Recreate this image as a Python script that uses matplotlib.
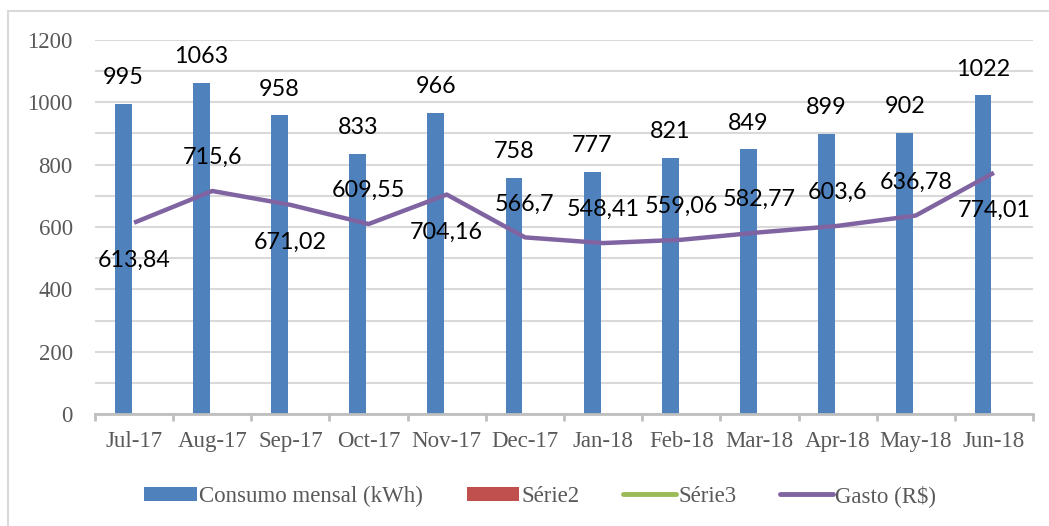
import matplotlib
matplotlib.use("Agg")
import matplotlib.pyplot as plt
from matplotlib.patches import Patch, Rectangle
from matplotlib.lines import Line2D
import numpy as np

months = ["Jul-17", "Aug-17", "Sep-17", "Oct-17", "Nov-17", "Dec-17",
          "Jan-18", "Feb-18", "Mar-18", "Apr-18", "May-18", "Jun-18"]
consumo = [995, 1063, 958, 833, 966, 758, 777, 821, 849, 899, 902, 1022]
gasto = [613.84, 715.6, 671.02, 609.55, 704.16, 566.7, 548.41, 559.06,
         582.77, 603.6, 636.78, 774.01]
gasto_label_side = ["below", "above", "below", "above", "below", "above",
                    "above", "above", "above", "above", "above", "below"]
yticks = [0, 200, 400, 600, 800, 1000, 1200]

BLUE = "#4f81bd"
RED = "#c0504d"
GREEN = "#9bbb59"
PURPLE = "#8064a2"
GRID = "#d9d9d9"
AXIS = "#bfbfbf"
TXT = "#595959"

W, H = 1049, 526
fig = plt.figure(figsize=(W / 100, H / 100), dpi=100)
ax = fig.add_axes([95 / W, 1 - 414 / H, (1033 - 95) / W, (414 - 40) / H])

x = np.arange(len(months))
ax.bar(x - 0.14, consumo, width=0.215, color=BLUE, zorder=2)
ax.plot(x, gasto, color=PURPLE, lw=3.2, zorder=3, solid_capstyle="butt")

label_font = dict(family=["Lato", "DejaVu Sans"], size=16.8, color="black")
for xi, v in zip(x, consumo):
    ax.annotate(f"{v}", (xi - 0.14, v), xytext=(0, 19), textcoords="offset points",
                ha="center", va="center", **label_font)
for xi, v, side in zip(x, gasto, gasto_label_side):
    dy = -27 if side == "below" else 24
    ax.annotate(f"{v:g}".replace(".", ","), (xi, v), xytext=(0, dy),
                textcoords="offset points", ha="center", va="center",
                zorder=5, **label_font)

ax.set_xlim(-0.5, len(months) - 0.5)
ax.set_ylim(0, 1200)
ax.set_yticks(yticks)
ax.set_yticks(np.arange(100, 1200, 200), minor=True)
ax.yaxis.grid(True, which="both", color=GRID, lw=1.5, zorder=0)
ax.set_axisbelow(True)

serif = ["Liberation Serif", "DejaVu Serif"]
ax.set_yticklabels([str(t) for t in yticks], fontfamily=serif, fontsize=16.5, color=TXT)
ax.tick_params(axis="y", which="both", length=0, pad=16)

ax.set_xticks(x)
ax.set_xticklabels(months, fontfamily=serif, fontsize=16.5, color=TXT)
ax.tick_params(axis="x", which="major", length=0, pad=12)
ax.set_xticks(np.arange(-0.5, len(months), 1.0), minor=True)
ax.tick_params(axis="x", which="minor", length=5, width=2, color=AXIS, direction="out")

for s in ["top", "right", "left"]:
    ax.spines[s].set_visible(False)
ax.spines["bottom"].set_color(AXIS)
ax.spines["bottom"].set_linewidth(2)

handles = [Patch(facecolor=BLUE), Patch(facecolor=RED),
           Line2D([], [], color=GREEN, lw=3.5, solid_capstyle="round"),
           Line2D([], [], color=PURPLE, lw=3.5, solid_capstyle="round")]
labels = ["Consumo mensal (kWh)", "Série2", "Série3", "Gasto (R$)"]
fig.legend(handles, labels, loc="center", bbox_to_anchor=(540 / W, 1 - 496 / H),
           ncol=4, frameon=False, prop=dict(family=serif, size=16.5),
           handlelength=2.3, handleheight=0.55, handletextpad=0.1,
           columnspacing=1.9, labelcolor=TXT)

fig.patches.append(Rectangle((8 / W, -0.1), 1.2, 1.1 - 11 / H, transform=fig.transFigure,
                             fill=False, edgecolor="#d9d9d9", lw=1.5))

fig.savefig("out.png", dpi=100)
